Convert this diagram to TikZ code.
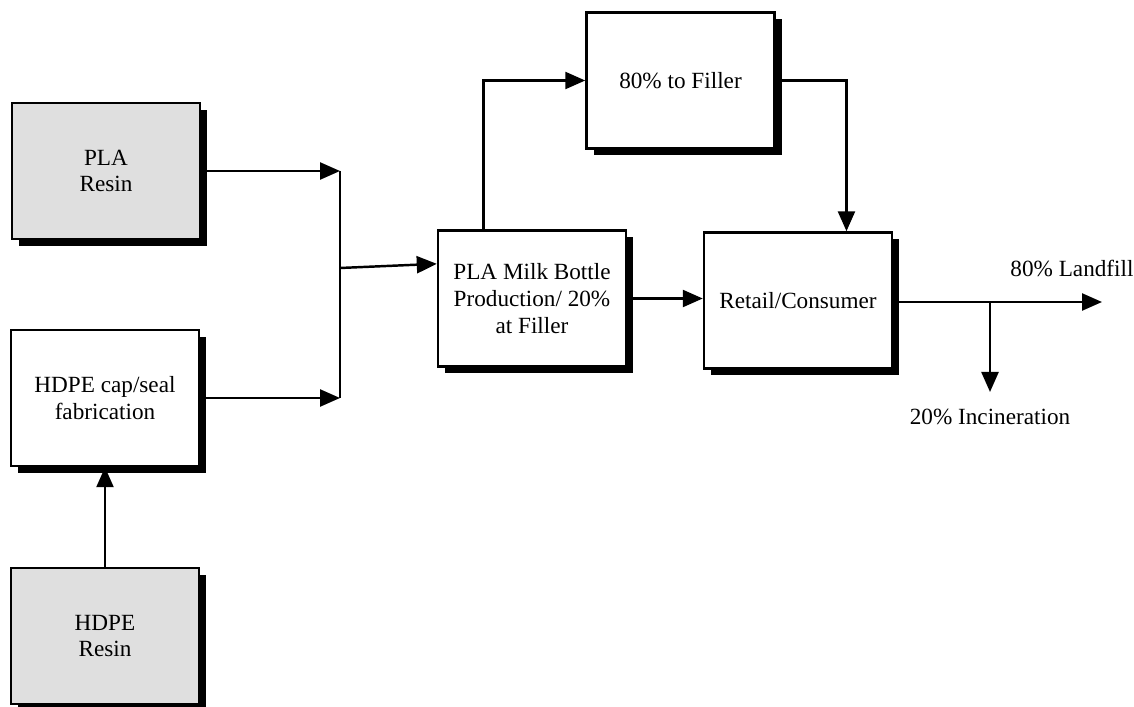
\documentclass[tikz,border=0pt]{standalone}
\usepackage{fontspec}
\setmainfont{Liberation Serif}
\usetikzlibrary{arrows.meta,shadows}

\tikzset{
  stage/.style = {draw, line width=1.4pt, fill=white, minimum width=3.76cm,
    minimum height=2.72cm, align=center, inner sep=2pt,
    drop shadow={shadow xshift=0.14cm, shadow yshift=-0.14cm, fill=black, opacity=1},
    font=\fontsize{13.2}{15.3}\selectfont},
  resin/.style = {stage, fill=gray!25},
  flow/.style = {line width=1.4pt, -{Triangle[length=4mm, width=3.4mm]}},
  link/.style = {line width=1.4pt},
  tag/.style = {font=\fontsize{13.2}{15.3}\selectfont}
}

\begin{document}
\begin{tikzpicture}
\useasboundingbox (0, 0) rectangle (22.68, 14.14);

% boxes
\node[resin] (plaresin) at (2.12, 10.72) {PLA\\Resin};
\node[stage] (hdpecap) at (2.10, 6.18) {HDPE cap/seal\\fabrication};
\node[resin] (hdperesin) at (2.10, 1.42) {HDPE\\Resin};
\node[stage] (bottle) at (10.64, 8.17) {PLA Milk Bottle\\Production/ 20\%\\at Filler};
\node[stage] (filler) at (13.61, 12.53) {80\% to Filler};
\node[stage] (retail) at (15.96, 8.13) {Retail/Consumer};

% junction before the bottle
\coordinate (jtop) at (6.8, 10.72);
\coordinate (jbot) at (6.8, 6.18);
\coordinate (jmid) at (6.8, 8.78);
\draw[flow] (plaresin.east) -- (jtop);
\draw[flow] (hdpecap.east) -- (jbot);
\draw[link] (jtop) -- (jbot);
\draw[flow] (jmid) -- (bottle.160);
\draw[flow] (hdperesin.north) -- (hdpecap.south);

% bottle, filler and retail
\draw[flow] (bottle.125) |- (filler.west);
\draw[flow] (filler.east) -| (retail.55);
\draw[flow] (bottle.east) -- (bottle.east -| retail.west);

% end of life
\coordinate (landfill) at (22.04, 8.10);
\coordinate (split) at (19.8, 8.10);
\coordinate (burn) at (19.8, 6.30);
\draw[flow] (retail.east |- landfill) -- (landfill);
\draw[flow] (split) -- (burn);
\node[tag] (landfilltxt) at (21.44, 8.78) {80\% Landfill};
\node[tag] (burntxt) at (19.8, 5.80) {20\% Incineration};
\end{tikzpicture}
\end{document}
